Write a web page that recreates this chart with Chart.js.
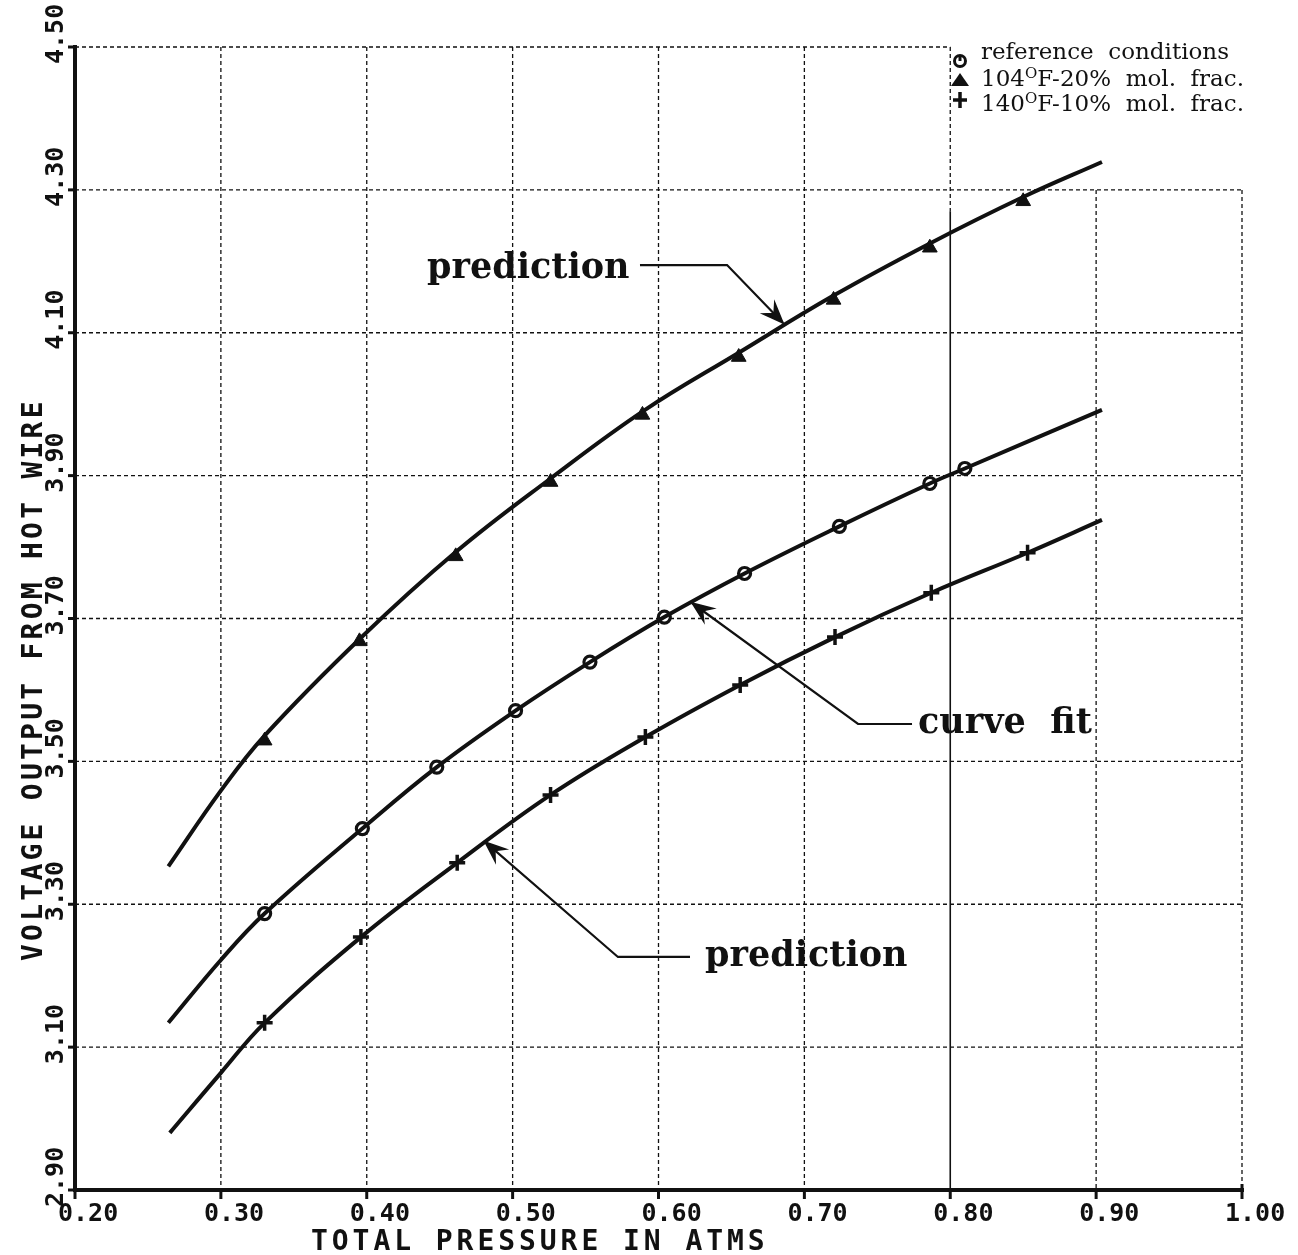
<!DOCTYPE html>
<html>
<head>
<meta charset="utf-8">
<title>Voltage output from hot wire vs total pressure</title>
<script src="https://cdn.jsdelivr.net/npm/chart.js@4.4.1/dist/chart.umd.min.js"></script>
<style>
  html, body { margin: 0; padding: 0; background: #fff; }
  #wrap { width: 1298px; height: 1255px; }
</style>
</head>
<body>
<div id="wrap"><canvas id="HotWireChart" width="1298" height="1255"></canvas></div>
<script>
// axis ticks (atm / volts)
const PressureTicks = [0.20, 0.30, 0.40, 0.50, 0.60, 0.70, 0.80, 0.90, 1.00];
const PressureLabels = ["0.20", "0.30", "0.40", "0.50", "0.60", "0.70", "0.80", "0.90", "1.00"];
const VoltageTicks = [2.90, 3.10, 3.30, 3.50, 3.70, 3.90, 4.10, 4.30, 4.50];
const VoltageLabels = ["2.90", "3.10", "3.30", "3.50", "3.70", "3.90", "4.10", "4.30", "4.50"];

// 104F - 20% mol. frac. : prediction curve + measured points
const Curve104X = [0.264, 0.300, 0.330, 0.396, 0.461, 0.526, 0.590, 0.655, 0.720, 0.786, 0.850, 0.904];
const Curve104Y = [3.353, 3.459, 3.536, 3.673, 3.793, 3.896, 3.991, 4.072, 4.152, 4.225, 4.290, 4.339];
const Points104X = [0.330, 0.395, 0.461, 0.526, 0.589, 0.655, 0.720, 0.786, 0.850];
const Points104Y = [3.529, 3.668, 3.787, 3.891, 3.985, 4.066, 4.146, 4.219, 4.284];

// reference conditions : curve fit + measured points
const CurveRefX = [0.264, 0.300, 0.330, 0.397, 0.448, 0.502, 0.553, 0.604, 0.659, 0.724, 0.786, 0.810, 0.904];
const CurveRefY = [3.134, 3.222, 3.287, 3.406, 3.492, 3.571, 3.639, 3.702, 3.763, 3.829, 3.889, 3.910, 3.992];
const PointsRefX = [0.330, 0.397, 0.448, 0.502, 0.553, 0.604, 0.659, 0.724, 0.786, 0.810];
const PointsRefY = [3.287, 3.406, 3.492, 3.571, 3.639, 3.702, 3.763, 3.829, 3.889, 3.910];

// 140F - 10% mol. frac. : prediction curve + measured points
const Curve140X = [0.265, 0.300, 0.330, 0.396, 0.462, 0.526, 0.591, 0.656, 0.721, 0.787, 0.853, 0.904];
const Curve140Y = [2.980, 3.064, 3.134, 3.254, 3.358, 3.453, 3.534, 3.607, 3.674, 3.736, 3.792, 3.838];
const Points140X = [0.330, 0.396, 0.462, 0.526, 0.591, 0.656, 0.721, 0.787, 0.853];
const Points140Y = [3.134, 3.254, 3.358, 3.453, 3.534, 3.607, 3.674, 3.736, 3.792];

function toXY(xs, ys) {
    return xs.map((x, i) => ({ x: x, y: ys[i] }));
}

const INK = "#111";
const TICK_FONT = 'bold 25px "DejaVu Sans Mono", monospace';
const TITLE_FONT = 'bold 28px "DejaVu Sans Mono", monospace';
const NOTE_FONT = 'bold 35px "DejaVu Serif", serif';
const KEY_FONT = '23px "DejaVu Serif", serif';

function strokeLine(ctx, x1, y1, x2, y2) {
    ctx.beginPath();
    ctx.moveTo(x1, y1);
    ctx.lineTo(x2, y2);
    ctx.stroke();
}

// plotter lettering: fixed advance per character
function spacedText(ctx, text, x, y, advance) {
    for (let i = 0; i < text.length; i++) {
        ctx.fillText(text[i], x + i * advance, y);
    }
}

function arrowHead(ctx, fromX, fromY, tipX, tipY) {
    const a = Math.atan2(tipY - fromY, tipX - fromX);
    const len = 22, notch = 13, spread = 0.38;
    ctx.beginPath();
    ctx.moveTo(tipX, tipY);
    ctx.lineTo(tipX - len * Math.cos(a - spread), tipY - len * Math.sin(a - spread));
    ctx.lineTo(tipX - notch * Math.cos(a), tipY - notch * Math.sin(a));
    ctx.lineTo(tipX - len * Math.cos(a + spread), tipY - len * Math.sin(a + spread));
    ctx.closePath();
    ctx.fill();
    ctx.lineWidth = 1.5;
    ctx.stroke();
}

// grid, axes and tick labels under the curves
const FramePlugin = {
    id: "frame",
    beforeDatasetsDraw(chart) {
        const ctx = chart.ctx;
        const X = v => chart.scales.x.getPixelForValue(v);
        const Y = v => chart.scales.y.getPixelForValue(v);
        ctx.save();
        ctx.strokeStyle = INK;
        ctx.fillStyle = INK;

        // dashed grid; top-right corner left open for the key
        ctx.lineWidth = 1.3;
        ctx.setLineDash([4, 3]);
        VoltageTicks.forEach(v => {
            if (v === 2.90) return;
            const right = v === 4.50 ? 0.80 : 1.00;
            strokeLine(ctx, X(0.20), Y(v), X(right), Y(v));
        });
        PressureTicks.forEach(v => {
            if (v === 0.20) return;
            if (v === 0.80) {
                strokeLine(ctx, X(v), Y(4.50), X(v), Y(4.27));
                return;
            }
            const top = v > 0.80 ? 4.30 : 4.50;
            strokeLine(ctx, X(v), Y(top), X(v), Y(2.90));
        });
        ctx.setLineDash([]);
        ctx.lineWidth = 1.6;
        strokeLine(ctx, X(0.80), Y(4.27), X(0.80), Y(2.90));

        // axes
        ctx.lineWidth = 4;
        ctx.lineCap = "square";
        strokeLine(ctx, X(0.20), Y(4.50), X(0.20), Y(2.90));
        strokeLine(ctx, X(0.20), Y(2.90), X(1.00), Y(2.90));
        ctx.lineWidth = 3;
        ctx.lineCap = "butt";
        VoltageTicks.forEach(v => strokeLine(ctx, X(0.20) - 7, Y(v), X(0.20), Y(v)));
        PressureTicks.forEach(v => strokeLine(ctx, X(v), Y(2.90), X(v), Y(2.90) + 9));
        strokeLine(ctx, X(1.00), Y(2.90) - 6, X(1.00), Y(2.90));

        // tick labels
        ctx.font = TICK_FONT;
        ctx.textAlign = "left";
        ctx.textBaseline = "alphabetic";
        PressureTicks.forEach((v, i) => {
            ctx.fillText(PressureLabels[i], X(v) - 17, Y(2.90) + 31);
        });
        VoltageTicks.forEach((v, i) => {
            ctx.save();
            ctx.translate(X(0.20) - 12, Y(v) + 17);
            ctx.rotate(-Math.PI / 2);
            ctx.fillText(VoltageLabels[i], 0, 0);
            ctx.restore();
        });

        // axis titles
        ctx.font = TITLE_FONT;
        spacedText(ctx, "TOTAL PRESSURE IN ATMS", 311, 1250, 20.8);
        ctx.save();
        ctx.translate(42, 961);
        ctx.rotate(-Math.PI / 2);
        spacedText(ctx, "VOLTAGE OUTPUT FROM HOT WIRE", 0, 0, 20.1);
        ctx.restore();
        ctx.restore();
    },

    // callouts and key on top of the curves
    afterDatasetsDraw(chart) {
        const ctx = chart.ctx;
        const X = v => chart.scales.x.getPixelForValue(v);
        const Y = v => chart.scales.y.getPixelForValue(v);
        const notes = [
            { text: "prediction", at: [0.4413, 4.1766], path: [[0.5873, 4.1948], [0.6470, 4.1948], [0.6854, 4.1137]] },
            { text: "curve  fit", at: [0.7779, 3.5398], path: [[0.7738, 3.5523], [0.7368, 3.5523], [0.6230, 3.7217]] },
            { text: "prediction", at: [0.6319, 3.2136], path: [[0.6216, 3.2262], [0.5722, 3.2262], [0.4811, 3.3872]] }
        ];
        ctx.save();
        ctx.strokeStyle = INK;
        ctx.fillStyle = INK;
        ctx.font = NOTE_FONT;
        ctx.textAlign = "left";
        ctx.textBaseline = "alphabetic";
        notes.forEach(n => {
            ctx.fillText(n.text, X(n.at[0]), Y(n.at[1]));
            const pts = n.path.map(p => [X(p[0]), Y(p[1])]);
            ctx.lineWidth = 2.2;
            ctx.beginPath();
            ctx.moveTo(pts[0][0], pts[0][1]);
            for (let i = 1; i < pts.length; i++) ctx.lineTo(pts[i][0], pts[i][1]);
            ctx.stroke();
            const a = pts[pts.length - 2], b = pts[pts.length - 1];
            arrowHead(ctx, a[0], a[1], b[0], b[1]);
        });

        // key
        const kx = 960;
        ctx.lineWidth = 3;
        ctx.beginPath();
        ctx.arc(kx, 61, 5.5, 0, Math.PI * 2);
        ctx.stroke();
        strokeLine(ctx, kx, 55, kx, 61);
        ctx.beginPath();
        ctx.moveTo(kx, 73);
        ctx.lineTo(kx + 9, 86);
        ctx.lineTo(kx - 9, 86);
        ctx.closePath();
        ctx.fill();
        ctx.lineWidth = 3.5;
        strokeLine(ctx, kx - 7, 100, kx + 7, 100);
        strokeLine(ctx, kx, 92, kx, 108);

        const tx = 981;
        ctx.font = KEY_FONT;
        ctx.fillText("reference  conditions", tx, 59);
        [["104", "F-20%  mol.  frac.", 86], ["140", "F-10%  mol.  frac.", 111]].forEach(r => {
            ctx.font = KEY_FONT;
            ctx.fillText(r[0], tx, r[2]);
            let w = ctx.measureText(r[0]).width;
            ctx.font = '15px "DejaVu Serif", serif';
            ctx.fillText("O", tx + w, r[2] - 8);
            w += ctx.measureText("O").width;
            ctx.font = KEY_FONT;
            ctx.fillText(r[1], tx + w, r[2]);
        });
        ctx.restore();
    }
};

const curveStyle = {
    showLine: true,
    borderColor: INK,
    borderWidth: 4,
    pointRadius: 0,
    tension: 0.4,
    fill: false
};

new Chart(document.getElementById("HotWireChart").getContext("2d"), {
    type: "scatter",
    data: {
        datasets: [
            Object.assign({ label: "104F-20% prediction", data: toXY(Curve104X, Curve104Y) }, curveStyle),
            Object.assign({ label: "reference curve fit", data: toXY(CurveRefX, CurveRefY) }, curveStyle),
            Object.assign({ label: "140F-10% prediction", data: toXY(Curve140X, Curve140Y) }, curveStyle),
            {
                label: "104F-20% mol. frac.",
                data: toXY(Points104X, Points104Y),
                pointStyle: "triangle",
                pointRadius: 8.5,
                backgroundColor: INK,
                borderColor: INK,
                borderWidth: 1
            },
            {
                label: "reference conditions",
                data: toXY(PointsRefX, PointsRefY),
                pointStyle: "circle",
                pointRadius: 6,
                backgroundColor: "#fff",
                borderColor: INK,
                borderWidth: 3.2
            },
            {
                label: "140F-10% mol. frac.",
                data: toXY(Points140X, Points140Y),
                pointStyle: "cross",
                pointRadius: 8,
                borderColor: INK,
                borderWidth: 3.5
            }
        ]
    },
    options: {
        responsive: false,
        animation: false,
        events: [],
        layout: { padding: { left: 75, right: 56, top: 47, bottom: 65 } },
        scales: {
            x: { type: "linear", min: 0.20, max: 1.00, display: false },
            y: { type: "linear", min: 2.90, max: 4.50, display: false }
        },
        plugins: {
            legend: { display: false },
            tooltip: { enabled: false }
        }
    },
    plugins: [FramePlugin]
});
</script>
</body>
</html>
